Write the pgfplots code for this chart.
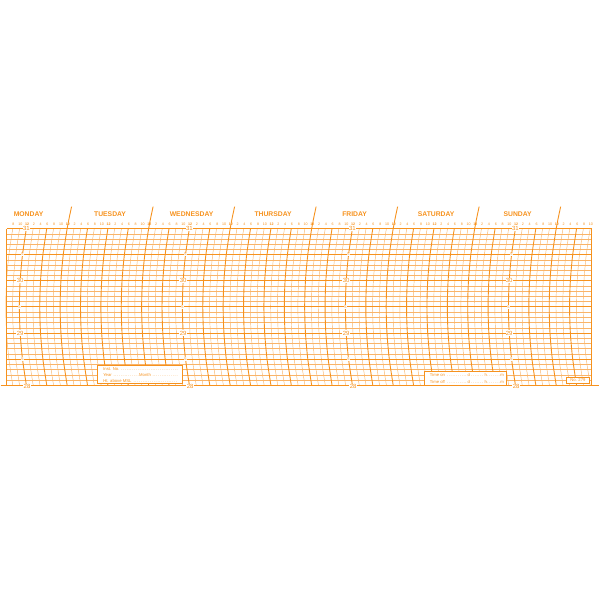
\documentclass[border=0pt]{standalone}
\usepackage{pgfplots}
\pgfplotsset{compat=1.18}
\usepackage{fontspec}
\setmainfont{Liberation Sans}
\definecolor{chart}{RGB}{246,146,30}
\definecolor{chartlight}{RGB}{249,180,105}
\tikzset{
  thinl/.style={chartlight,line width=0.45pt,mark=none},
  thickl/.style={chart,line width=0.9pt,mark=none},
  hdr/.style={font=\fontsize{3.6}{4}\selectfont,text=chart,inner sep=0pt},
  day/.style={font=\bfseries\fontsize{6.8}{8}\selectfont,text=chart,inner sep=0pt},
  lab/.style={font=\fontsize{6}{7}\selectfont,text=chart,fill=white,inner sep=0.4pt},
  smalltxt/.style={font=\fontsize{4.2}{5}\selectfont,text=chart,inner sep=0pt,anchor=west},
}
\begin{document}
\begin{tikzpicture}
\begin{axis}[width=600pt,height=600pt,scale only axis,
  xmin=4.408,xmax=180.72,ymin=23.910,ymax=35.376,
  hide axis,clip=false]
\path (rel axis cs:0,0) rectangle (rel axis cs:1,1);
% thin horizontal lines (every 0.1 inHg)
\foreach \k in {1,...,29} {
  \pgfmathtruncatemacro\m{mod(\k,5)}
  \pgfmathsetmacro\yy{28+\k/10}
  \ifnum\m=0\relax\else
    \addplot[thinl] coordinates {(6.17,\yy) (178.5,\yy)};
  \fi
}
% thin vertical arcs (every 2 hours)
\foreach \h in {8,10,...,178} {
  \pgfmathsetmacro\ha{\h-1.14}
  \pgfmathsetmacro\hb{\h-1.83}
  \pgfmathsetmacro\hc{\h-2.06}
  \pgfmathtruncatemacro\m{mod(\h,6)}
  \ifnum\m=0\relax\else
    \addplot[thinl,smooth] coordinates {(\h,28) (\ha,28.5) (\hb,29) (\hc,29.5) (\hb,30) (\ha,30.5) (\h,31)};
  \fi
}
% thick horizontal lines
\foreach \yy in {28.5,29,29.5,30,30.5} {
  \addplot[thickl] coordinates {(6.17,\yy) (178.5,\yy)};
}
% thick vertical arcs (every 6 hours)
\foreach \h in {12,18,...,174} {
  \pgfmathsetmacro\ha{\h-1.14}
  \pgfmathsetmacro\hb{\h-1.83}
  \pgfmathsetmacro\hc{\h-2.06}
  \addplot[thickl,smooth] coordinates {(\h,28) (\ha,28.5) (\hb,29) (\hc,29.5) (\hb,30) (\ha,30.5) (\h,31)};
}
% midnight lines rising into the header
\foreach \h in {24,48,...,168} {
  \pgfmathsetmacro\ha{\h+0.59}
  \pgfmathsetmacro\hb{\h+1.31}
  \addplot[thickl,smooth] coordinates {(\h,31) (\ha,31.2) (\hb,31.42)};
}
% borders
\addplot[thickl] coordinates {(6.17,31) (178.5,31)};
\addplot[chart,line width=1.2pt,mark=none] coordinates {(4.408,28) (180.72,28)};
\addplot[thickl] coordinates {(6.17,28) (6.17,31)};
\addplot[thickl] coordinates {(178.5,28) (178.5,31)};
% boxes
\addplot[draw=chart,fill=white,line width=0.7pt,mark=none] coordinates {(32.91,28.382) (57.89,28.382) (57.89,28.038) (32.91,28.038) (32.91,28.382)};
\addplot[draw=chart,fill=white,line width=0.7pt,mark=none] coordinates {(129.3,28.267) (153.4,28.267) (153.4,28.0) (129.3,28.0) (129.3,28.267)};
\addplot[draw=chart,fill=white,line width=0.5pt,mark=none] coordinates {(171.0,28.153) (177.8,28.153) (177.8,28.03) (171.0,28.03) (171.0,28.153)};
% header hour numbers
\foreach \h in {8,10,...,178} {
  \pgfmathtruncatemacro\lab{mod(\h,12)}
  \ifnum\lab=0 \def\lab{\noexpand\textbf{12}}\fi
  \edef\temp{\noexpand\node[hdr] at (axis cs:\h+0.2,31.086) {\lab};}
  \temp
}
% day names
\node[day] at (axis cs:12.64,31.268) {MONDAY};
\node[day] at (axis cs:36.64,31.268) {TUESDAY};
\node[day] at (axis cs:60.64,31.268) {WEDNESDAY};
\node[day] at (axis cs:84.64,31.268) {THURSDAY};
\node[day] at (axis cs:108.64,31.268) {FRIDAY};
\node[day] at (axis cs:132.64,31.268) {SATURDAY};
\node[day] at (axis cs:156.64,31.268) {SUNDAY};
% scale labels
\pgfplotsinvokeforeach{12,60,108,156}{
  \node[lab] at (axis cs:#1,31) {31};
  \node[lab,font=\fontsize{4}{5}\selectfont] at (axis cs:#1-1.14,30.5) {5};
  \node[lab] at (axis cs:#1-1.83,30) {30};
  \node[lab,font=\fontsize{4}{5}\selectfont] at (axis cs:#1-2.06,29.5) {5};
  \node[lab] at (axis cs:#1-1.83,29) {29};
  \node[lab,font=\fontsize{4}{5}\selectfont] at (axis cs:#1-1.14,28.5) {5};
  \node[lab] at (axis cs:#1+0.2,27.98) {28};
}
% box texts
\node[smalltxt] at (axis cs:34.59,28.306) {\makebox[75pt][l]{Inst. No. \dotfill}};
\node[smalltxt] at (axis cs:34.59,28.191) {\makebox[36pt][l]{Year \dotfill}\makebox[39pt][l]{Month \dotfill}};
\node[smalltxt] at (axis cs:34.59,28.072) {\makebox[75pt][l]{Ht. above MSL \dotfill}};
\node[smalltxt] at (axis cs:130.77,28.191) {\makebox[40pt][l]{Time on \dotfill d}\makebox[17pt][l]{\dotfill h}\makebox[17pt][l]{\dotfill m}};
\node[smalltxt] at (axis cs:130.77,28.060) {\makebox[40pt][l]{Time off \dotfill d}\makebox[17pt][l]{\dotfill h}\makebox[17pt][l]{\dotfill m}};
\node[smalltxt,anchor=center] at (axis cs:174.4,28.095) {No. 279};
\end{axis}
\end{tikzpicture}
\end{document}
